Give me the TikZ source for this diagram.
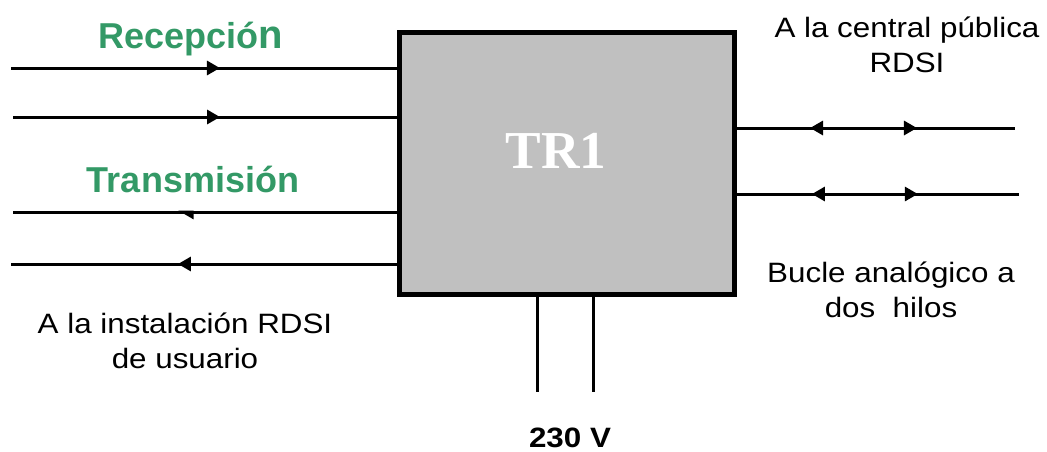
\documentclass[tikz,border=0pt]{standalone}
\usepackage{fontspec}
\setmainfont{Liberation Sans}
\newfontfamily\notefont[FakeStretch=1.12]{Liberation Sans}
\newfontfamily\blockfont{Liberation Serif}
\usepackage{tikz}
\usetikzlibrary{arrows.meta, positioning, calc, decorations.markings}
\definecolor{isdngreen}{RGB}{51,153,102}
\definecolor{blockgray}{RGB}{192,192,192}

\begin{document}
\begin{tikzpicture}[
    x=0.75pt, y=-0.75pt,
    >={Triangle[length=9.75pt, width=10.5pt]},
    block/.style={draw=black, fill=blockgray, line width=3.75pt, minimum width=251.25pt, minimum height=196.5pt, inner sep=0pt},
    blocklabel/.style={text=white, font=\blockfont\bfseries\fontsize{40}{48}\selectfont, anchor=base},
    wire/.style={line width=2.25pt},
    fwd/.style={postaction={decorate, decoration={markings, mark=at position #1 with {\arrow{>}}}}},
    bwd/.style={postaction={decorate, decoration={markings, mark=at position #1 with {\arrowreversed{>}}}}},
    halfbwd/.style={postaction={decorate, decoration={markings, mark=at position #1 with {\arrowreversed{Triangle[length=9.75pt, width=10.5pt, right]}}}}},
    heading/.style={text=isdngreen, font=\bfseries\fontsize{27}{32}\selectfont, anchor=base},
    note/.style={font=\notefont\fontsize{21}{26}\selectfont, align=center, anchor=base}
]
\useasboundingbox (0,0) rectangle (1047,451);

% Nodes
\node[block] (tr) at (566.5,163) {};
\node[blocklabel] (trname) at (556,168) {TR1};

\node[heading] (rx) at (191,48) {Recepció{\fontsize{30}{36}\selectfont n}};
\node[heading] (tx) at (193,192) {Transmisión};

% multi-line notes sit on the baseline of their last line
\node[note] (pub) at (907,72) {A la central pública\\RDSI};
\node[note] (loop) at (891,317) {Bucle analógico a\\dos\ \ hilos};
\node[note] (user) at (185,368) {A la instalación RDSI\\de usuario};
\node[note, font=\notefont\bfseries\fontsize{21}{26}\selectfont] (mains) at (570,447) {230 V};

\coordinate (in1) at (11,68);
\coordinate (in2) at (13,117);
\coordinate (in3) at (13,212);
\coordinate (in4) at (11,264);
\coordinate (out1) at (1015,128);
\coordinate (out2) at (1019,194);
\coordinate (pw1) at (537,392);
\coordinate (pw2) at (593,392);

% Lines
\draw[wire, fwd=0.542] (in1) -- (in1 -| tr.west);
\draw[wire, fwd=0.540] (in2) -- (in2 -| tr.west);
\draw[wire, halfbwd=0.430] (in3) -- (in3 -| tr.west);
\draw[wire, bwd=0.433] (in4) -- (in4 -| tr.west);

\draw[wire, bwd=0.264, fwd=0.648] (tr.east |- out1) -- (out1);
\draw[wire, bwd=0.267, fwd=0.642] (tr.east |- out2) -- (out2);

\draw[wire] (tr.south -| pw1) -- (pw1);
\draw[wire] (tr.south -| pw2) -- (pw2);

\end{tikzpicture}
\end{document}
